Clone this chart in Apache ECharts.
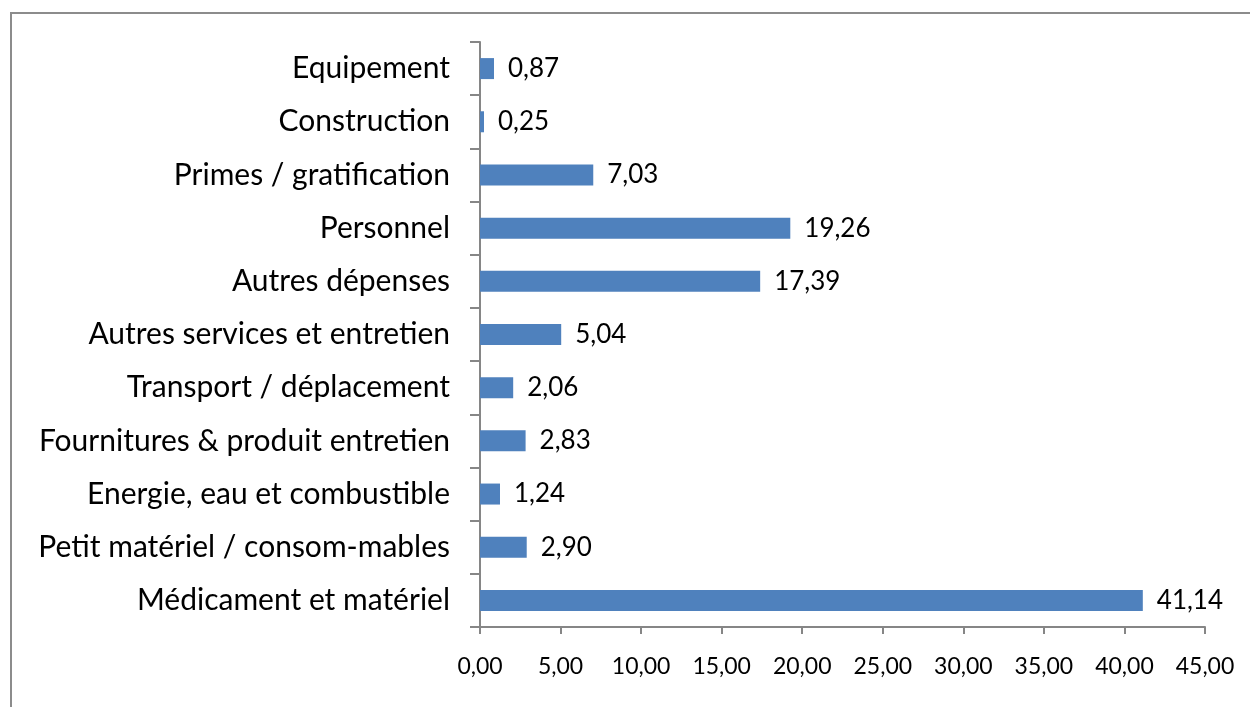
<!DOCTYPE html>
<html>
<head>
<meta charset="utf-8">
<script src="https://cdn.jsdelivr.net/npm/echarts@6/dist/echarts.min.js"></script>
<style>
  html, body { margin: 0; padding: 0; background: #fff; }
  #main { width: 1250px; height: 707px; }
</style>
</head>
<body>
<div id="main"></div>
<script>
// catégories, du bas vers le haut
var categories = [
  'Médicament et matériel',
  'Petit matériel / consom-mables',
  'Energie, eau et combustible',
  'Fournitures & produit entretien',
  'Transport / déplacement',
  'Autres services et entretien',
  'Autres dépenses',
  'Personnel',
  'Primes / gratification',
  'Construction',
  'Equipement'
];
var values = [41.14, 2.90, 1.24, 2.83, 2.06, 5.04, 17.39, 19.26, 7.03, 0.25, 0.87];

var fontName = 'Lato, "Open Sans", sans-serif';

function fmt(v) {
  return v.toFixed(2).replace('.', ',');
}

var myChart = echarts.init(document.getElementById('main'));
var option = {
  animation: false,
  textStyle: { fontFamily: fontName },
  // cadre du graphique
  graphic: [{
    type: 'rect',
    shape: { x: 11, y: 13, width: 1260, height: 720 },
    style: { fill: 'none', stroke: '#8c8c8c', lineWidth: 2 },
    silent: true
  }],
  grid: { left: 480, right: 45, top: 42, bottom: 80, containLabel: false },
  xAxis: {
    type: 'value',
    min: 0,
    max: 45,
    interval: 5,
    axisLine: { show: true, lineStyle: { color: '#868686', width: 2 } },
    axisTick: { show: true, length: 7, lineStyle: { color: '#868686', width: 2 } },
    splitLine: { show: false },
    axisLabel: {
      color: '#000',
      fontSize: 23,
      margin: 28,
      formatter: function (v) { return fmt(v); }
    }
  },
  yAxis: {
    type: 'category',
    data: categories,
    axisLine: { show: true, lineStyle: { color: '#868686', width: 2 } },
    axisTick: { show: true, length: 10, lineStyle: { color: '#868686', width: 2 } },
    axisLabel: { color: '#000', fontSize: 30, margin: 30 }
  },
  series: [{
    type: 'bar',
    data: values,
    barWidth: 21,
    itemStyle: { color: '#4f81bd' },
    label: {
      show: true,
      position: 'right',
      distance: 14,
      color: '#000',
      fontSize: 26,
      formatter: function (p) { return fmt(p.value); }
    }
  }]
};
myChart.setOption(option);
</script>
</body>
</html>
